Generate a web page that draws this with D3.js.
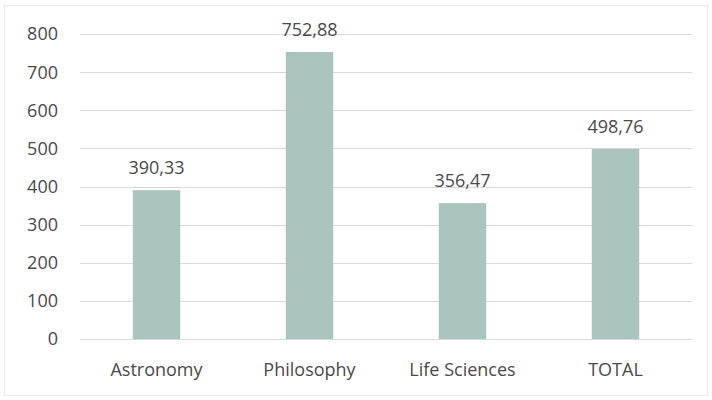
<!DOCTYPE html>
<html>
<head>
<meta charset="utf-8">
<script src="https://cdn.jsdelivr.net/npm/d3@7"></script>
<style>
  body { margin: 0; background: #fff; }
  svg text { font-family: "Open Sans", sans-serif; fill: #4a4a4a; }
</style>
</head>
<body>
<script>
const width = 712;
const height = 400;

const categories = ["Astronomy", "Philosophy", "Life Sciences", "TOTAL"];
const values = [390.33, 752.88, 356.47, 498.76];
const labels = ["390,33", "752,88", "356,47", "498,76"];
const yTicks = [0, 100, 200, 300, 400, 500, 600, 700, 800];

const margin = {top: 34, right: 20, bottom: 61, left: 80};

const svg = d3.select("body")
	.append("svg")
	.attr("width", width)
	.attr("height", height);

// chart frame
svg.append("rect")
	.attr("x", 4.5)
	.attr("y", 5.5)
	.attr("width", width - 9)
	.attr("height", height - 10)
	.attr("fill", "#fff")
	.attr("stroke", "#e8e8e8");

const xScale = d3.scaleBand()
	.domain(categories)
	.range([margin.left, width - margin.right])
	.paddingInner(0.69)
	.paddingOuter(0.345);

const yScale = d3.scaleLinear()
	.domain([0, 800])
	.range([height - margin.bottom, margin.top]);

// gridlines
svg.append("g")
	.selectAll("line")
	.data(yTicks)
	.enter()
	.append("line")
	.attr("x1", margin.left)
	.attr("x2", width - margin.right)
	.attr("y1", d => Math.round(yScale(d)) + 0.5)
	.attr("y2", d => Math.round(yScale(d)) + 0.5)
	.attr("stroke", "#d9d9d9")
	.attr("stroke-width", 1);

// y tick labels
svg.append("g")
	.selectAll("text")
	.data(yTicks)
	.enter()
	.append("text")
	.attr("x", 58)
	.attr("y", d => yScale(d))
	.attr("dy", "0.36em")
	.attr("text-anchor", "end")
	.attr("font-size", 18)
	.text(d => d);

// bars
svg.append("g")
	.selectAll("rect")
	.data(values)
	.enter()
	.append("rect")
	.attr("x", (d, i) => xScale(categories[i]))
	.attr("y", d => yScale(d))
	.attr("width", xScale.bandwidth())
	.attr("height", d => yScale(0) - yScale(d))
	.attr("fill", "#a9c5be");

// value labels
svg.append("g")
	.selectAll("text")
	.data(values)
	.enter()
	.append("text")
	.attr("x", (d, i) => xScale(categories[i]) + xScale.bandwidth() / 2)
	.attr("y", d => yScale(d) - 16)
	.attr("text-anchor", "middle")
	.attr("font-size", 18)
	.text((d, i) => labels[i]);

// category labels
svg.append("g")
	.selectAll("text")
	.data(categories)
	.enter()
	.append("text")
	.attr("x", d => xScale(d) + xScale.bandwidth() / 2)
	.attr("y", 376)
	.attr("text-anchor", "middle")
	.attr("font-size", 18)
	.text(d => d);
</script>
</body>
</html>
